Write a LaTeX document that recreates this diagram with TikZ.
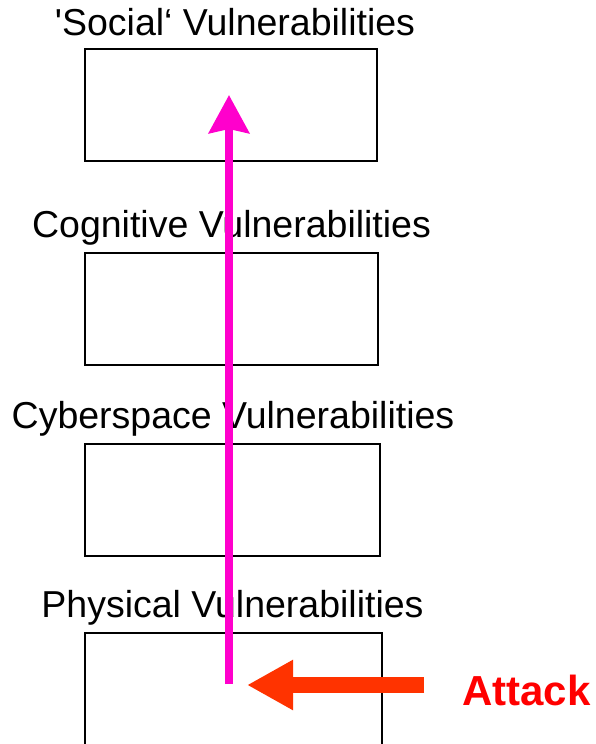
\documentclass[tikz,border=0pt]{standalone}
\usepackage{fontspec}
\setmainfont{Liberation Sans}
\usetikzlibrary{arrows.meta}
\definecolor{vmagenta}{RGB}{255,0,204}
\definecolor{vorange}{RGB}{255,51,0}
\definecolor{vred}{RGB}{255,0,0}
\tikzset{
  layerbox/.style={draw=black, line width=2pt, anchor=north west, inner sep=0pt},
  layerlabel/.style={anchor=base, inner sep=0pt, font=\fontsize{37.5}{44}\selectfont},
  riseline/.style={vmagenta, line width=8pt, -{Stealth[length=38pt,width=40pt,inset=4pt]}},
  attackline/.style={vorange, line width=16pt, -{Triangle[length=46pt,width=47pt]}},
}
\begin{document}
\begin{tikzpicture}[x=1pt,y=-1pt]
\useasboundingbox (0,0) rectangle (596,744);
% four stacked layers
\node[layerbox, minimum width=292pt, minimum height=112pt] (social) at (84,48) {};
\node[layerbox, minimum width=293pt, minimum height=112pt] (cognitive) at (84,252) {};
\node[layerbox, minimum width=295pt, minimum height=112pt] (cyber) at (84,443) {};
\node[layerbox, minimum width=297pt, minimum height=130pt] (physical) at (84,632) {};
% layer captions
\node[layerlabel] (lsocial) at (235,35) {\textquotesingle Social‘ Vulnerabilities};
\node[layerlabel] (lcognitive) at (231.5,237) {Cognitive Vulnerabilities};
\node[layerlabel] (lcyber) at (233,428) {Cyberspace Vulnerabilities};
\node[layerlabel] (lphysical) at (232.5,617) {Physical Vulnerabilities};
% attack entering at the physical layer and rising to the top
\coordinate (risestart) at (229,684);
\coordinate (riseend) at (229,95);
\coordinate (attackstart) at (424,685);
\coordinate (attackend) at (247,685);
\draw[riseline] (risestart) -- (riseend);
\draw[attackline] (attackstart) -- (attackend);
\node[anchor=base west, inner sep=0pt, text=vred, font=\fontsize{42}{48}\selectfont\bfseries] (attack) at (462,705) {Attack};
\end{tikzpicture}
\end{document}
